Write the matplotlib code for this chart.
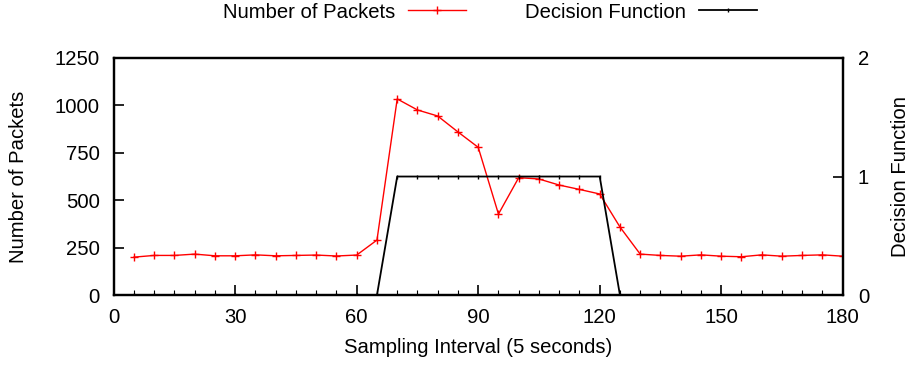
import matplotlib.pyplot as plt
import numpy as np

plt.rcParams['font.family'] = ['Liberation Sans', 'DejaVu Sans']
FS = 14.6

# sampling interval index (every 5 units)
intervals = list(range(5, 185, 5))
packets = [200, 209, 209, 216, 207, 207, 212, 207, 209, 211, 206, 211,
           290, 1034, 976, 944, 860, 779, 427, 619, 612, 580, 557, 533,
           359, 216, 209, 205, 212, 205, 202, 212, 205, 209, 212, 205]
decision = [0] * 12 + [0] + [1] * 11 + [0] + [0] * 11

fig = plt.figure(figsize=(9.1, 3.67), dpi=100)
ax = fig.add_axes([0.125, 0.196, 0.801, 0.646])
ax2 = ax.twinx()

l1, = ax.plot(intervals, packets, color='#ff0000', lw=1, marker='+',
              markersize=6, markeredgewidth=1, label='Number of Packets')
l2, = ax2.plot(intervals, decision, color='black', lw=1.3, marker='|',
               markersize=3, markeredgewidth=1, label='Decision Function')

ax.set_xlim(0, 180)
ax.set_ylim(0, 1250)
ax2.set_ylim(0, 2)
ax.set_xticks(range(0, 181, 30))
ax.set_xticks(range(0, 181, 5), minor=True)
ax.set_yticks(range(0, 1251, 250))
ax2.set_yticks([0, 1, 2])

ax.tick_params(axis='y', which='major', direction='in', length=7, width=1.2,
               labelsize=FS, pad=10)
ax.tick_params(axis='x', which='major', direction='in', length=7, width=1.2,
               labelsize=FS, pad=9)
ax.tick_params(axis='x', which='minor', direction='in', length=3.6, width=0.8)
ax2.tick_params(axis='y', direction='in', length=7, width=1.2,
                labelsize=FS, pad=11)

for a in (ax, ax2):
    for s in a.spines.values():
        s.set_linewidth(1.6)

ax.set_xlabel('Sampling Interval (5 seconds)', fontsize=FS, labelpad=8)
ax.set_ylabel('Number of Packets', fontsize=FS, labelpad=19)
ax2.set_ylabel('Decision Function', fontsize=FS, labelpad=16)

fig.legend(handles=[l1, l2], loc='center', bbox_to_anchor=(0.538, 1 - 12 / 367),
           ncol=2, frameon=False, markerfirst=False, fontsize=FS,
           handlelength=2.86, handletextpad=0.64, columnspacing=2.9,
           borderpad=0, borderaxespad=0)

fig.savefig('out.png', dpi=100)
